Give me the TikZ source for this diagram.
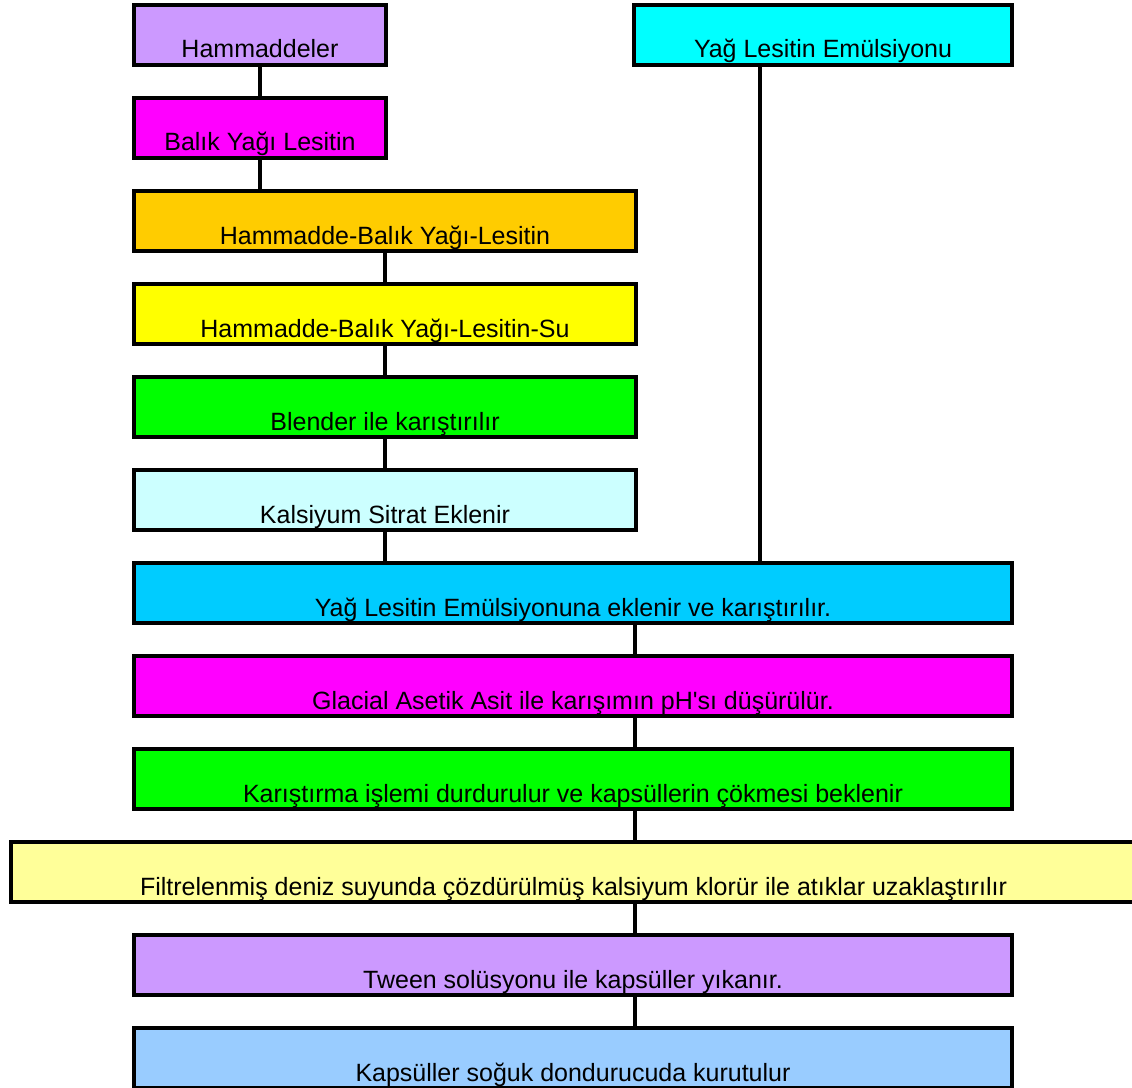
\documentclass[tikz,border=0pt]{standalone}
\usepackage{fontspec}
\setmainfont{Liberation Sans}
\usepackage{xcolor}
\definecolor{lavender}{HTML}{CC99FF}
\definecolor{cyanbox}{HTML}{00FFFF}
\definecolor{magentabox}{HTML}{FF00FF}
\definecolor{orangebox}{HTML}{FFCC00}
\definecolor{yellowbox}{HTML}{FFFF00}
\definecolor{greenbox}{HTML}{00FF00}
\definecolor{paleCyan}{HTML}{CCFFFF}
\definecolor{skybox}{HTML}{00CCFF}
\definecolor{paleYellow}{HTML}{FFFF99}
\definecolor{paleBlue}{HTML}{99CCFF}

\begin{document}
\begin{tikzpicture}[x=0.75pt,y=-0.75pt,
    box/.style={draw,line width=3pt,inner sep=0pt,anchor=north,
      text height=39.75pt,text depth=5.25pt,
      font=\fontsize{18.75}{22}\selectfont},
    link/.style={line width=3pt}]
  \useasboundingbox (0,0) rectangle (1132,1088);
  % top row
  \node[box,fill=lavender,minimum width=189pt] (ham) at (260,3) {Hammaddeler};
  \node[box,fill=cyanbox,minimum width=283.5pt] (emul) at (823,3) {Yağ Lesitin Emülsiyonu};
  \node[box,fill=magentabox,minimum width=189pt] (balik) at (260,96) {Balık Yağı Lesitin};
  % middle column
  \node[box,fill=orangebox,minimum width=376.5pt] (hbl) at (385,189) {Hammadde-Balık Yağı-Lesitin};
  \node[box,fill=yellowbox,minimum width=376.5pt] (hbls) at (385,282) {Hammadde-Balık Yağı-Lesitin-Su};
  \node[box,fill=greenbox,minimum width=376.5pt] (blender) at (385,375) {Blender ile karıştırılır};
  \node[box,fill=paleCyan,minimum width=376.5pt] (sitrat) at (385,468) {Kalsiyum Sitrat Eklenir};
  % wide steps
  \node[box,fill=skybox,minimum width=658.5pt] (eklen) at (573,561) {Yağ Lesitin Emülsiyonuna eklenir ve karıştırılır.};
  \node[box,fill=magentabox,minimum width=658.5pt] (glacial) at (573,654) {Glacial Asetik Asit ile karışımın pH\textquotesingle sı düşürülür.};
  \node[box,fill=greenbox,minimum width=658.5pt] (durdur) at (573,747) {Karıştırma işlemi durdurulur ve kapsüllerin çökmesi beklenir};
  \node[box,fill=paleYellow,minimum width=843.75pt] (filtre) at (573.5,840) {Filtrelenmiş deniz suyunda çözdürülmüş kalsiyum klorür ile atıklar uzaklaştırılır};
  \node[box,fill=lavender,minimum width=658.5pt] (tween) at (573,933) {Tween solüsyonu ile kapsüller yıkanır.};
  \node[box,fill=paleBlue,minimum width=658.5pt] (kurut) at (573,1026) {Kapsüller soğuk dondurucuda kurutulur};

  \coordinate (emulx) at (760,0);
  \coordinate (stepx) at (635,0);

  \draw[link] (ham) -- (balik);
  \draw[link] (balik.south) -- (balik.south |- hbl.north);
  \draw[link] (hbl) -- (hbls);
  \draw[link] (hbls) -- (blender);
  \draw[link] (blender) -- (sitrat);
  \draw[link] (sitrat.south) -- (sitrat.south |- eklen.north);
  \draw[link] (emulx |- emul.south) -- (emulx |- eklen.north);
  \draw[link] (stepx |- eklen.south) -- (stepx |- glacial.north);
  \draw[link] (stepx |- glacial.south) -- (stepx |- durdur.north);
  \draw[link] (stepx |- durdur.south) -- (stepx |- filtre.north);
  \draw[link] (stepx |- filtre.south) -- (stepx |- tween.north);
  \draw[link] (stepx |- tween.south) -- (stepx |- kurut.north);
\end{tikzpicture}
\end{document}
